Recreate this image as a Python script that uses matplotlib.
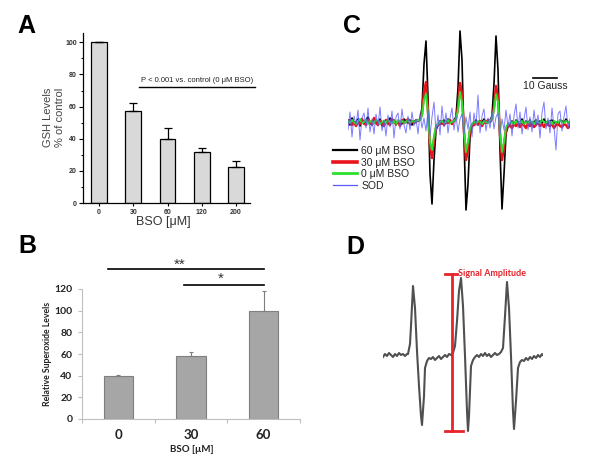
'''Four panel figure: GSH depletion, superoxide levels and EPR spectra'''

import matplotlib
matplotlib.use('Agg')
import matplotlib.pyplot as plt

plt.rcParams['font.family'] = ['Liberation Sans', 'DejaVu Sans']

W, H = 600, 467

# Panel A - GSH levels
bso_a = ['0', '30', '60', '120', '200']
gsh_mean = [100, 57, 40, 31.5, 22.5]
gsh_err = [0, 5.5, 6.5, 2.5, 3.5]

# Panel B - relative superoxide
bso_b = ['0', '30', '60']
sox_mean = [40, 58, 100]
sox_err = [0.6, 4, 18]

# Panel C - EPR spectra, one value every 2 px of field
epr_60 = [2, -3, 4, -1, 0, 3, -4, 1, -2, 2, 5, -1, -3, 0, 2, -2, 3, -4, 1, 0,
          -2, 4, -1, 2, -3, 1, 0, -2, 3, 1, -1, 2, -3, 0, 2, 1,
          3, 14, 58, 81, 25, -52, -82, -38, -8, -3,
          1, -2, 2, -1, 3, 0, -2, 2,
          5, 34, 91, 62, -18, -88, -62, -15, -4,
          -1, 2, -3, 1, 0, 3, -1, 2, 1,
          6, 38, 86, 52, -28, -87, -52, -12, -4,
          -2, 1, -3, 2, 0, -1, 3, -2, 1, -1, 2, -3, 0, 2, -1, 1, -2, 3, 0, -2,
          1, 2, -1, 0, -3, 2, 1, -1, 3, 0, -2]
epr_30 = [-1, 2, -3, 0, -4, 1, -2, 3, -1, -3, 2, 0, -2, 4, -1, -3, 1, 0, -4, 2,
          -1, -3, 3, 0, -2, 1, -4, 2, -1, 0, 3, -2, 1, -1, 0, 2,
          2, 8, 30, 40, 10, -25, -36, -18, -6, -3,
          -2, 1, -3, 0, -1, 2, -2, 1,
          3, 15, 39, 28, -10, -38, -28, -8, -4,
          -3, 0, -2, 1, -4, 0, -1, 2, 0,
          3, 15, 36, 25, -12, -38, -25, -7, -5,
          -3, -6, -2, -4, -1, -5, -2, -3, -6, -1, -4, -2, -5, -3, 0, -4, -2, -5,
          -1, -3, -4, -2, -6, -3, -1, -4, -5, -2, -3, -6, -4]
epr_0 = [1, -1, 2, 0, -2, 1, 3, -1, 0, 2, -2, 1, 0, -1, 2, 1, -2, 0, 1, -1,
         2, 0, -1, 1, -2, 2, 0, 1, -1, 0, 2, -1, 1, 0, 1, 2,
         2, 6, 22, 28, 8, -20, -28, -14, -4, -2,
         0, 1, -1, 0, 2, -1, 0, 1,
         3, 12, 30, 20, -8, -30, -20, -6, -2,
         0, -1, 1, 0, -2, 1, 0, -1, 1,
         3, 12, 28, 20, -10, -30, -20, -5, -2,
         -1, 0, -2, 1, -1, 0, 1, -2, 0, -1, 1, 0, -2, 1, 0, -1, 2, 0, -1, 1,
         0, -2, 1, 0, -1, 2, 0, -1, 1, 0, -1]
epr_sod = [-8, 10, -15, 6, -3, 12, -18, 4, 9, -6, 14, -10, 3, -12, 8, -4, 15, -9, 2, -14,
           7, -5, 11, -16, 5, 9, -7, 13, -3, -11, 6, -8, 10, -4, 3, -12,
           8, -6, 4, -9, 12, -14, 5, 20, -10, 7,
           -13, 16, -5, 9, -11, 4, 14, -8,
           6, -10, 3, 8, -12, 5, -7, 10, -15,
           9, -4, 27, -11, 6, 13, -9, 4, -6,
           11, -7, 5, 9, -13, 3, -8, 12, -5,
           8, -14, 6, 18, -6, 10, -12, 3, 15, -8, 5, -10, 12, -4, 7, -16, 9, 20, -7, 4,
           -11, 14, -5, -28, 8, 11, -9, 5, 16, -6, 3]
epr_labels = ['60 \u03bcM BSO', '30 \u03bcM BSO', '0 \u03bcM BSO', 'SOD']

# Panel D - single spectrum
d_field = [0, 2, 4, 6, 8, 10, 12, 14, 16, 18, 20, 22, 24,
           25, 27, 28, 30, 32, 34, 36, 38, 39, 41, 42, 44, 46,
           48, 50, 52, 54, 56, 58, 60, 62, 64, 66, 68, 70,
           72, 74, 76, 78, 80, 82, 84, 85, 86, 88, 90,
           92, 94, 96, 98, 100, 102, 104, 106, 108, 110, 112, 114, 116, 118,
           120, 122, 124, 126, 128, 130, 131, 133, 135, 137,
           139, 141, 143, 145, 147, 149, 151, 153, 155, 157, 159, 160]
d_signal = [-1, 2, 0, 3, 1, -1, 2, 0, 3, 1, 2, 0, 2,
            2, 12, 30, 70, 48, 5, -30, -60, -69, -40, -12, -5, -2,
            -3, -1, -4, -2, 0, -3, -1, 1, -1, 2, 1, 3,
            10, 35, 65, 78, 50, 0, -55, -75, -60, -10, -4,
            -1, 1, -1, 2, 0, 3, 0, 2, -1, 1, 3, 1, 2, 4,
            8, 40, 74, 48, 0, -55, -73, -45, -12, -6,
            -4, -5, -2, -4, -1, -3, 0, -2, 1, -1, 2, 1]


def px_axes(fig, left, top, right, bottom):
    '''Add axes from a pixel box (origin top left)'''
    return fig.add_axes([left / W, 1 - bottom / H, (right - left) / W, (bottom - top) / H])


def fig_text(fig, x, y, s, **kw):
    '''Text at pixel position'''
    fig.text(x / W, 1 - y / H, s, **kw)


fig = plt.figure(figsize=(W / 100, H / 100), dpi=100)

# ---------------- Panel A ----------------
axA = px_axes(fig, 83, 33.3, 250, 203)
pos_a = list(range(len(bso_a)))
axA.bar(pos_a, gsh_mean, width=0.46, color='#d9d9d9', edgecolor='black', lw=0.9,
        yerr=[[0] * len(gsh_err), gsh_err], capsize=2.8,
        error_kw=dict(elinewidth=0.9, capthick=0.9, ecolor='black'))
axA.set_xlim(-0.47, 4.41)
axA.set_ylim(0, 105.6)
axA.set_xticks(pos_a)
axA.set_xticklabels(bso_a, fontsize=5, fontweight='bold', color='#333333')
axA.set_yticks(range(0, 101, 20))
axA.set_yticks(range(10, 100, 20), minor=True)
axA.tick_params(axis='y', labelsize=5, labelcolor='#333333', length=3, width=0.8, pad=1.5)
axA.tick_params(axis='y', which='minor', length=1.8, width=0.7)
axA.tick_params(axis='x', length=2.5, width=0.8, pad=2)
for lab in axA.get_yticklabels():
    lab.set_fontweight('bold')
for side in ['top', 'right']:
    axA.spines[side].set_visible(False)
for side in ['left', 'bottom']:
    axA.spines[side].set_linewidth(0.9)
axA.plot([1.17, 4.55], [72, 72], color='black', lw=1.0, clip_on=False)
axA.text(2.86, 74, 'P < 0.001 vs. control (0 \u03bcM BSO)', ha='center', va='bottom',
         fontsize=5.5, color='#222222')
fig_text(fig, 163, 222, 'BSO [\u03bcM]', ha='center', va='center', fontsize=9, color='#333333')
fig_text(fig, 54, 117, 'GSH Levels\n% of control', ha='center', va='center', rotation=90,
         fontsize=8, color='#444444', linespacing=1.35)

# ---------------- Panel B ----------------
lato = ['Lato', 'DejaVu Sans']
axB = px_axes(fig, 82, 289, 300, 419)
pos_b = list(range(len(bso_b)))
axB.bar(pos_b, sox_mean, width=0.4, color='#a6a6a6', edgecolor='#7f7f7f', lw=0.8,
        yerr=[[0] * len(sox_err), sox_err], capsize=1.5,
        error_kw=dict(elinewidth=0.8, capthick=0.8, ecolor='#7f7f7f'))
axB.set_xlim(-0.5, 2.5)
axB.set_ylim(0, 120)
axB.set_yticks(range(0, 121, 20))
axB.set_yticklabels([str(v) for v in range(0, 121, 20)], family=lato, fontweight='bold',
                    fontsize=7.5, color='#222222')
axB.set_xticks([-0.5, 0.5, 1.5, 2.5])
axB.set_xticklabels([])
axB.set_xticks(pos_b, minor=True)
axB.set_xticklabels(bso_b, minor=True, family=lato, fontweight='bold', fontsize=9.5,
                    color='#222222')
axB.tick_params(axis='x', which='minor', length=0, pad=7)
axB.tick_params(axis='both', which='major', length=3, width=0.8, color='#bfbfbf')
axB.tick_params(axis='y', pad=4)
for side in ['top', 'right']:
    axB.spines[side].set_visible(False)
for side in ['left', 'bottom']:
    axB.spines[side].set_color('#bfbfbf')
    axB.spines[side].set_linewidth(0.8)
axB.plot([-0.14, 2.0], [138.5, 138.5], color='black', lw=1.2, clip_on=False)
axB.plot([0.9, 2.0], [123.7, 123.7], color='black', lw=1.2, clip_on=False)
axB.text(0.85, 138.5, '**', ha='center', va='baseline', fontsize=11, color='#333333')
axB.text(1.41, 125.5, '*', ha='center', va='baseline', fontsize=11, color='#333333')
fig_text(fig, 47, 354, 'Relative Superoxide Levels', ha='center', va='center', rotation=90,
         fontsize=6.3, fontweight='bold', family=lato, color='#222222')
fig_text(fig, 192, 450, 'BSO [\u00b5M]', ha='center', va='center', fontsize=7,
         fontweight='bold', family=lato, color='#222222')

# ---------------- Panel C ----------------
axC = px_axes(fig, 348, 20, 570, 220)
axC.plot(epr_60, color='black', lw=1.2, label=epr_labels[0])
axC.plot(epr_30, color='#e8141c', lw=1.8, label=epr_labels[1])
axC.plot(epr_0, color='#2ee02e', lw=1.4, label=epr_labels[2])
axC.plot(epr_sod, color='#5a5aff', lw=0.7, alpha=0.8, label=epr_labels[3])
axC.set_xlim(0, 111)
axC.set_ylim(-98, 102)
axC.axis('off')
leg = axC.legend(loc='upper left', bbox_to_anchor=(333 / W, 1 - 146 / H),
                 bbox_transform=fig.transFigure, frameon=False, fontsize=7.5,
                 borderaxespad=0, borderpad=0, handlelength=2.3, handletextpad=0.4,
                 labelspacing=0.15)
for line, lw in zip(leg.get_lines(), [1.6, 2.6, 2.0, 0.9]):
    line.set_linewidth(lw)
    line.set_alpha(1)
for txt in leg.get_texts():
    txt.set_color('#222222')
# 10 Gauss scale bar (12 samples)
axC.plot([92.5, 104.5], [44, 44], color='black', lw=1.2)
axC.text(98.5, 36, '10 Gauss', ha='center', va='center', fontsize=7.5, color='#222222')

# ---------------- Panel D ----------------
axD = px_axes(fig, 383, 265, 543, 440)
axD.plot(d_field, d_signal, color='#505050', lw=1.5)
axD.set_xlim(0, 160)
axD.set_ylim(-84, 91)
axD.axis('off')
amp_x = 69
amp_top = max(d_signal) + 4
amp_bottom = min(d_signal)
red = '#e8232a'
axD.plot([amp_x, amp_x], [amp_top, amp_bottom], color=red, lw=2, clip_on=False)
axD.plot([62, 74], [amp_top, amp_top], color=red, lw=2, clip_on=False)
axD.plot([62, 80], [amp_bottom, amp_bottom], color=red, lw=2, clip_on=False)
axD.text(75, amp_top + 1, 'Signal Amplitude', ha='left', va='center', fontsize=6.5,
         fontweight='bold', family=lato, color=red)

# Panel letters
for letter, x, y in [('A', 17, 33), ('B', 18, 253), ('C', 343, 33), ('D', 346, 254)]:
    fig_text(fig, x, y, letter, ha='left', va='baseline', fontsize=18, fontweight='bold')

fig.savefig('out.png', dpi=100)
